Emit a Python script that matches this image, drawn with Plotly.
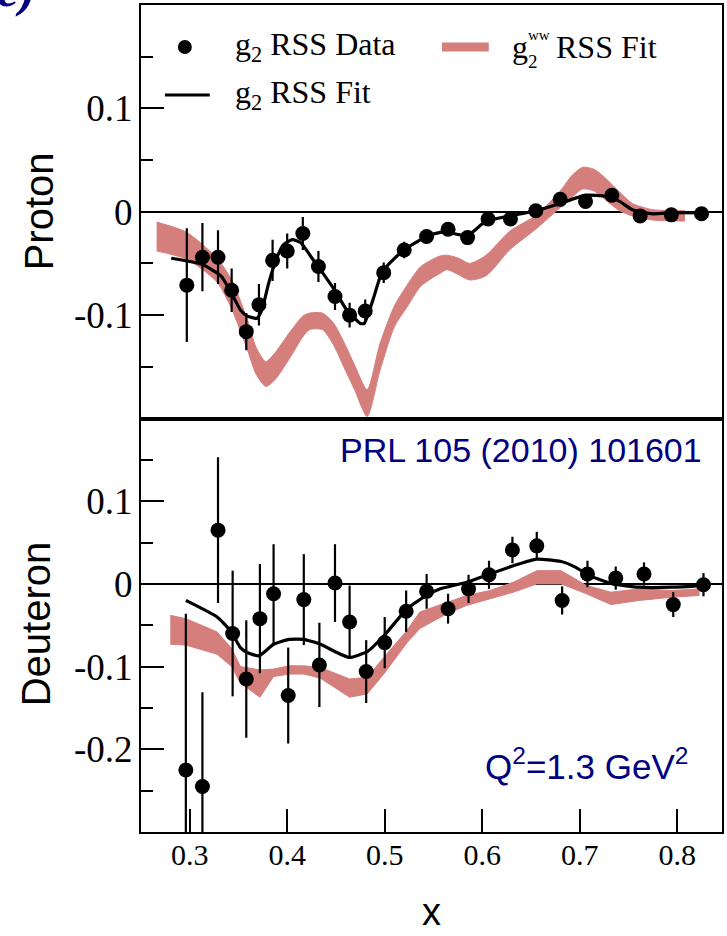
import plotly.graph_objects as go
from plotly.subplots import make_subplots

# ---------------- data ----------------
# Proton: g2 resonance data with uncertainties
x_p = [0.297, 0.313, 0.329, 0.343, 0.358, 0.371, 0.385, 0.400, 0.416, 0.432, 0.449, 0.464,
       0.480, 0.499, 0.520, 0.543, 0.565, 0.585, 0.606, 0.629, 0.655, 0.680, 0.706, 0.733,
       0.762, 0.794, 0.825]
g2_p = [-0.071, -0.044, -0.044, -0.076, -0.116, -0.090, -0.047, -0.038, -0.021, -0.053, -0.082, -0.100,
        -0.096, -0.059, -0.037, -0.024, -0.017, -0.025, -0.007, -0.007, 0.001, 0.012, 0.010, 0.016,
        -0.004, -0.003, -0.002]
err_p = [0.055, 0.033, 0.026, 0.021, 0.018, 0.020, 0.020, 0.017, 0.016, 0.015, 0.013, 0.012,
         0.011, 0.010, 0.008, 0.007, 0.006, 0.006, 0.006, 0.005, 0.005, 0.005, 0.005, 0.005,
         0.004, 0.004, 0.004]

# Proton: g2 RSS fit curve
fit_x_p = [0.281, 0.313, 0.332, 0.343, 0.352, 0.359, 0.369, 0.374, 0.381, 0.390, 0.396, 0.405,
           0.414, 0.424, 0.434, 0.448, 0.461, 0.475, 0.479, 0.488, 0.497, 0.509, 0.523, 0.543,
           0.557, 0.565, 0.585, 0.604, 0.629, 0.655, 0.680, 0.706, 0.727, 0.741, 0.754, 0.775,
           0.795, 0.825]
fit_y_p = [-0.045, -0.051, -0.062, -0.079, -0.095, -0.101, -0.103, -0.095, -0.069, -0.043, -0.032, -0.027,
           -0.030, -0.043, -0.056, -0.075, -0.095, -0.108, -0.108, -0.085, -0.059, -0.046, -0.035, -0.024,
           -0.020, -0.020, -0.023, -0.009, -0.004, 0.001, 0.008, 0.016, 0.015, 0.010, 0.002, -0.002,
           -0.001, -0.001]

# Proton: g2^WW RSS fit band (upper / lower edge)
ww_x_p = [0.266, 0.297, 0.328, 0.343, 0.359, 0.368, 0.378, 0.387, 0.403, 0.416, 0.423, 0.436,
          0.447, 0.458, 0.469, 0.482, 0.495, 0.510, 0.523, 0.537, 0.556, 0.564, 0.576, 0.587,
          0.604, 0.628, 0.656, 0.680, 0.692, 0.703, 0.715, 0.727, 0.741, 0.754, 0.775, 0.808]
ww_hi_p = [-0.010, -0.020, -0.045, -0.066, -0.104, -0.131, -0.145, -0.137, -0.116, -0.101, -0.098, -0.098,
           -0.107, -0.126, -0.148, -0.172, -0.128, -0.091, -0.071, -0.053, -0.043, -0.042, -0.045, -0.050,
           -0.042, -0.019, -0.003, 0.020, 0.035, 0.043, 0.041, 0.032, 0.019, 0.008, 0.002, 0.001]
ww_lo_p = [-0.038, -0.046, -0.068, -0.094, -0.133, -0.157, -0.169, -0.163, -0.141, -0.121, -0.114, -0.114,
           -0.128, -0.150, -0.172, -0.198, -0.154, -0.111, -0.092, -0.072, -0.060, -0.056, -0.061, -0.066,
           -0.062, -0.037, -0.016, 0.004, 0.014, 0.022, 0.020, 0.011, 0.001, -0.004, -0.008, -0.009]

# Deuteron: g2 resonance data with uncertainties
x_d = [0.296, 0.313, 0.329, 0.344, 0.358, 0.372, 0.386, 0.401, 0.417, 0.433, 0.449, 0.464,
       0.481, 0.500, 0.522, 0.543, 0.565, 0.586, 0.607, 0.631, 0.656, 0.682, 0.708, 0.737,
       0.766, 0.796, 0.827]
g2_d = [-0.225, -0.245, 0.065, -0.060, -0.115, -0.042, -0.012, -0.135, -0.019, -0.098, 0.001, -0.046,
        -0.106, -0.071, -0.033, -0.009, -0.030, -0.006, 0.011, 0.041, 0.046, -0.020, 0.012, 0.007,
        0.012, -0.025, -0.001]
err_d = [0.189, 0.114, 0.088, 0.076, 0.071, 0.066, 0.060, 0.058, 0.055, 0.051, 0.047, 0.044,
         0.038, 0.031, 0.025, 0.021, 0.018, 0.017, 0.017, 0.016, 0.017, 0.017, 0.016, 0.014,
         0.014, 0.015, 0.014]

# Deuteron: g2 RSS fit curve
fit_x_d = [0.296, 0.328, 0.342, 0.352, 0.359, 0.371, 0.386, 0.402, 0.417, 0.434, 0.451, 0.464,
           0.482, 0.499, 0.523, 0.543, 0.557, 0.584, 0.608, 0.632, 0.656, 0.681, 0.696, 0.710,
           0.734, 0.761, 0.795, 0.826]
fit_y_d = [-0.020, -0.040, -0.057, -0.077, -0.083, -0.087, -0.073, -0.067, -0.067, -0.073, -0.083, -0.089,
           -0.082, -0.063, -0.030, -0.014, -0.006, 0.002, 0.012, 0.022, 0.030, 0.027, 0.020, 0.010,
           0.000, -0.004, -0.004, -0.002]

# Deuteron: g2^WW RSS fit band (upper / lower edge)
ww_x_d = [0.280, 0.296, 0.328, 0.343, 0.352, 0.372, 0.386, 0.402, 0.417, 0.434, 0.464, 0.482,
          0.499, 0.523, 0.536, 0.564, 0.584, 0.608, 0.632, 0.656, 0.681, 0.707, 0.732, 0.761,
          0.795, 0.823]
ww_hi_d = [-0.038, -0.042, -0.058, -0.078, -0.100, -0.104, -0.103, -0.099, -0.099, -0.101, -0.115, -0.113,
           -0.089, -0.056, -0.034, -0.022, -0.014, -0.008, 0.002, 0.016, 0.016, -0.002, -0.010, -0.006,
           -0.008, -0.006]
ww_lo_d = [-0.073, -0.074, -0.085, -0.100, -0.120, -0.137, -0.112, -0.109, -0.109, -0.114, -0.137, -0.133,
           -0.109, -0.071, -0.054, -0.036, -0.026, -0.018, -0.010, 0.000, 0.000, -0.012, -0.025, -0.020,
           -0.016, -0.014]

x_ticks = [0.3, 0.4, 0.5, 0.6, 0.7, 0.8]
x_ticktext = ["0.3", "0.4", "0.5", "0.6", "0.7", "0.8"]
y_ticks_p = [-0.2, -0.1, 0.0, 0.1, 0.2]
y_ticktext_p = ["", "-0.1", "0", "0.1", ""]
y_ticks_d = [-0.3, -0.2, -0.1, 0.0, 0.1, 0.2]
y_ticktext_d = ["", "-0.2", "-0.1", "0", "0.1", ""]

# ---------------- styling ----------------
W, H = 727, 936
M_L, M_R, M_T, M_B = 141, 3, 5, 104
PINK = "rgb(213,127,125)"
NAVY = "#000080"
SERIF = "Liberation Serif"
SANS = "Liberation Sans"


def px(xp):
    return (xp - M_L) / (W - M_L - M_R)


def py(yp):
    return (H - M_B - yp) / (H - M_T - M_B)


fig = make_subplots(rows=2, cols=1, shared_xaxes=True, vertical_spacing=0)


def add_panel(row, wx, whi, wlo, wshape, fx, fy, dx, dy, de):
    # g2^WW band: lower edge, then upper edge filled down to it
    fig.add_trace(go.Scatter(
        x=wx, y=wlo, mode="lines",
        line=dict(color=PINK, width=1, shape=wshape, smoothing=0.7),
        hoverinfo="skip", showlegend=False), row=row, col=1)
    fig.add_trace(go.Scatter(
        x=wx, y=whi, mode="lines", fill="tonexty", fillcolor=PINK,
        line=dict(color=PINK, width=1, shape=wshape, smoothing=0.7),
        hoverinfo="skip", showlegend=False), row=row, col=1)
    # g2 RSS fit
    fig.add_trace(go.Scatter(
        x=fx, y=fy, mode="lines",
        line=dict(color="black", width=3.2, shape="spline", smoothing=0.5),
        showlegend=False), row=row, col=1)
    # g2 RSS data
    fig.add_trace(go.Scatter(
        x=dx, y=dy, mode="markers",
        marker=dict(color="black", size=15),
        error_y=dict(type="data", array=de, thickness=2.2, width=0, color="black"),
        showlegend=False), row=row, col=1)


add_panel(1, ww_x_p, ww_hi_p, ww_lo_p, "spline", fit_x_p, fit_y_p, x_p, g2_p, err_p)
add_panel(2, ww_x_d, ww_hi_d, ww_lo_d, "linear", fit_x_d, fit_y_d, x_d, g2_d, err_d)

axis_common = dict(showline=True, mirror=True, linecolor="black", linewidth=2,
                   showgrid=False)
fig.update_xaxes(range=[0.25, 0.846], **axis_common)
fig.update_xaxes(showticklabels=False, ticks="", row=1, col=1)
fig.update_xaxes(ticks="inside", ticklen=23, tickwidth=2, tickcolor="black",
                 tickvals=x_ticks, ticktext=x_ticktext, ticklabelstandoff=-5,
                 tickfont=dict(family=SERIF, size=30, color="black"), row=2, col=1)

y_common = dict(ticks="inside", ticklen=23, tickwidth=2, tickcolor="black",
                zeroline=True, zerolinecolor="black", zerolinewidth=2,
                ticklabelstandoff=-1,
                tickfont=dict(family=SERIF, size=37, color="black"),
                minor=dict(dtick=0.05, ticks="inside", ticklen=12, tickwidth=2,
                           tickcolor="black", showgrid=False),
                **axis_common)
fig.update_yaxes(range=[-0.2, 0.2], tickvals=y_ticks_p, ticktext=y_ticktext_p,
                 row=1, col=1, **y_common)
fig.update_yaxes(range=[-0.3, 0.2], tickvals=y_ticks_d, ticktext=y_ticktext_d,
                 row=2, col=1, **y_common)
fig.update_layout(yaxis=dict(domain=[0.5, 1.0]), yaxis2=dict(domain=[0.0, 0.5]))

ann = []


def text(x, y, s, size, family, color="black", xanchor="left", yanchor="middle", angle=0):
    ann.append(dict(x=px(x), y=py(y), xref="paper", yref="paper", text=s, showarrow=False,
                    xanchor=xanchor, yanchor=yanchor, textangle=angle,
                    font=dict(size=size, family=family, color=color)))


# legend texts
text(233, 47, "g<sub>2</sub> RSS Data", 32, SERIF)
text(233, 95, "g<sub>2</sub> RSS Fit", 32, SERIF)
text(511, 47, "g", 32, SERIF)
text(527, 35, "ww", 15, SERIF)
text(527, 62, "2", 19, SERIF)
text(555, 47, "RSS Fit", 32, SERIF)

# axis titles
text(39, 211, "Proton", 40, SANS, xanchor="center", angle=-90)
text(36, 624, "Deuteron", 40, SANS, xanchor="center", angle=-90)
text(432, 912, "x", 38, SANS, xanchor="center")

# labels
text(706, 450, "PRL 105 (2010) 101601", 34, SANS, color=NAVY, xanchor="right")
text(692, 764, "Q<sup>2</sup>=1.3 GeV<sup>2</sup>", 35, SANS, color=NAVY, xanchor="right")
text(38, -11, "<b><i>c)</i></b>", 50, SERIF, color=NAVY, xanchor="right")

fig.update_layout(annotations=ann)

# legend glyphs
shapes = [
    dict(type="circle", xref="paper", yref="paper",
         x0=px(178), x1=px(192), y0=py(54), y1=py(40),
         fillcolor="black", line=dict(color="black", width=0)),
    dict(type="line", xref="paper", yref="paper",
         x0=px(165), x1=px(210), y0=py(95), y1=py(95),
         line=dict(color="black", width=3.2)),
    dict(type="line", xref="paper", yref="paper",
         x0=px(443), x1=px(490), y0=py(47), y1=py(47),
         line=dict(color=PINK, width=9)),
]
fig.update_layout(shapes=shapes)

fig.update_layout(
    width=W, height=H,
    margin=dict(l=M_L, r=M_R, t=M_T, b=M_B),
    paper_bgcolor="white", plot_bgcolor="white",
    showlegend=False,
)

fig.write_html("out.html")
